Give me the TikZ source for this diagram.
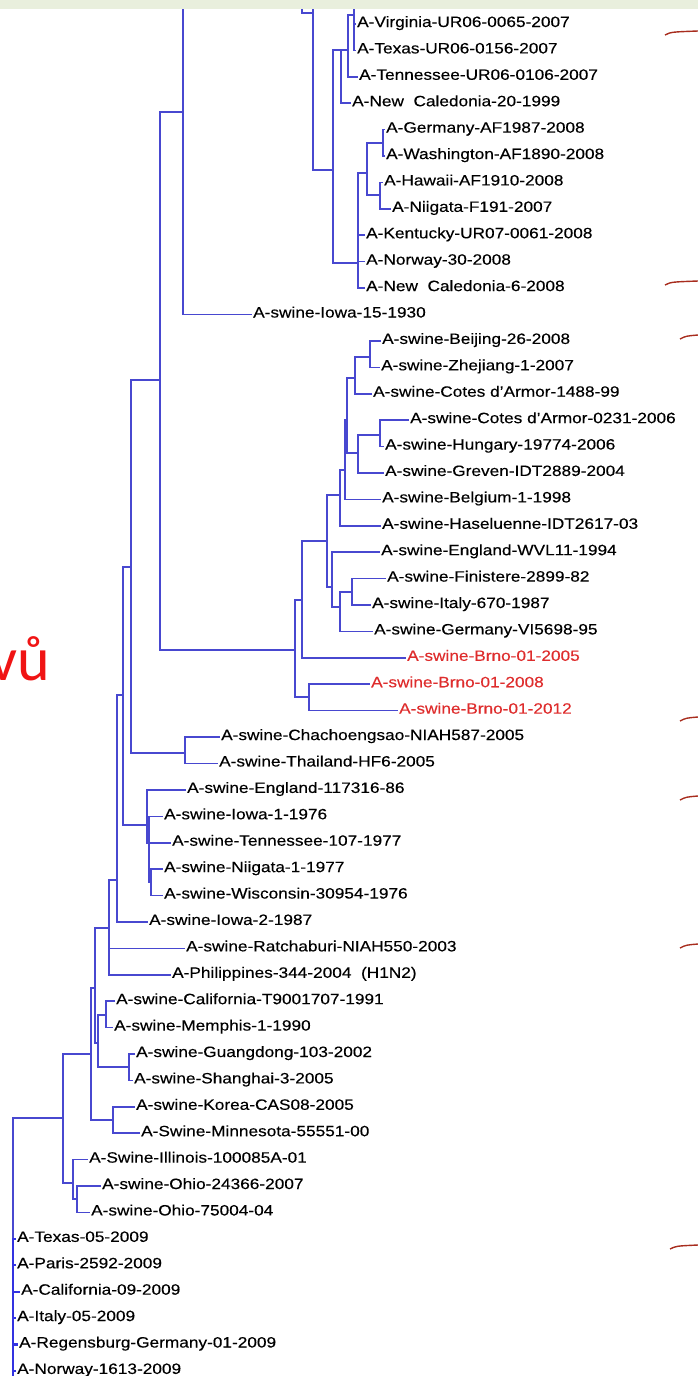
\documentclass[tikz,border=0pt]{standalone}
\usepackage{fontspec}
\setmainfont{Liberation Sans}[FakeStretch=1.15, FakeBold=0.3]
\newfontfamily\slidefont{Carlito}
\usepackage{tikz}
\definecolor{cBranch}{RGB}{72,72,208}
\definecolor{cRoot}{RGB}{50,50,225}
\definecolor{cBrno}{RGB}{222,45,45}
\definecolor{cBand}{RGB}{233,239,221}
\definecolor{cMark}{RGB}{168,45,30}
\definecolor{cSlide}{RGB}{240,20,20}
\tikzset{
	branch/.style={draw=cBranch, line width=1.6pt},
	rootbranch/.style={draw=cRoot, line width=2.2pt},
	leaf/.style={anchor=base west, inner sep=1pt, yshift=-3pt, font=\fontsize{15}{18}\selectfont},
	% leftovers of the slide around the tree
	edgemark/.style={draw=cMark, line width=1.4pt},
	bigword/.style={text=cSlide, font=\slidefont\fontsize{62}{70}\selectfont, inner sep=0pt, anchor=base east},
}

\begin{document}
\begin{tikzpicture}[x=1pt, y=-1pt]
	\useasboundingbox (0,0) rectangle (698,1376);
	% leaves, top to bottom
	\foreach \tx/\lab/\col [count=\i from 0] in {
		356/{A-Virginia-UR06-0065-2007}/black, 356/{A-Texas-UR06-0156-2007}/black,
		358/{A-Tennessee-UR06-0106-2007}/black, 351/{A-New\ \ Caledonia-20-1999}/black,
		385/{A-Germany-AF1987-2008}/black, 385/{A-Washington-AF1890-2008}/black,
		383/{A-Hawaii-AF1910-2008}/black, 391/{A-Niigata-F191-2007}/black,
		365/{A-Kentucky-UR07-0061-2008}/black, 365/{A-Norway-30-2008}/black,
		365/{A-New\ \ Caledonia-6-2008}/black, 252/{A-swine-Iowa-15-1930}/black,
		381/{A-swine-Beijing-26-2008}/black, 380/{A-swine-Zhejiang-1-2007}/black,
		372/{A-swine-Cotes d'Armor-1488-99}/black, 409/{A-swine-Cotes d'Armor-0231-2006}/black,
		384/{A-swine-Hungary-19774-2006}/black, 384/{A-swine-Greven-IDT2889-2004}/black,
		381/{A-swine-Belgium-1-1998}/black, 381/{A-swine-Haseluenne-IDT2617-03}/black,
		380/{A-swine-England-WVL11-1994}/black, 386/{A-swine-Finistere-2899-82}/black,
		371/{A-swine-Italy-670-1987}/black, 373/{A-swine-Germany-VI5698-95}/black,
		406/{A-swine-Brno-01-2005}/cBrno, 370/{A-swine-Brno-01-2008}/cBrno,
		398/{A-swine-Brno-01-2012}/cBrno, 220/{A-swine-Chachoengsao-NIAH587-2005}/black,
		218/{A-swine-Thailand-HF6-2005}/black, 186/{A-swine-England-117316-86}/black,
		163/{A-swine-Iowa-1-1976}/black, 171/{A-swine-Tennessee-107-1977}/black,
		163/{A-swine-Niigata-1-1977}/black, 163/{A-swine-Wisconsin-30954-1976}/black,
		148/{A-swine-Iowa-2-1987}/black, 185/{A-swine-Ratchaburi-NIAH550-2003}/black,
		171/{A-Philippines-344-2004\ \ (H1N2)}/black, 115/{A-swine-California-T9001707-1991}/black,
		113/{A-swine-Memphis-1-1990}/black, 135/{A-swine-Guangdong-103-2002}/black,
		133/{A-swine-Shanghai-3-2005}/black, 135/{A-swine-Korea-CAS08-2005}/black,
		140/{A-Swine-Minnesota-55551-00}/black, 88/{A-Swine-Illinois-100085A-01}/black,
		101/{A-swine-Ohio-24366-2007}/black, 90/{A-swine-Ohio-75004-04}/black,
		16/{A-Texas-05-2009}/black, 16/{A-Paris-2592-2009}/black,
		20/{A-California-09-2009}/black, 16/{A-Italy-05-2009}/black,
		18/{A-Regensburg-Germany-01-2009}/black, 16/{A-Norway-1613-2009}/black}{
		\coordinate (t\i) at (\tx,{24+26.41*\i});
		\node[leaf, text=\col] (l\i) at (t\i) {\lab};
	}
	% inner nodes
	\coordinate (root) at (13,1380);
	\coordinate (swA) at (63,1118);
	\coordinate (ohio) at (73,1183);
	\coordinate (ohioB) at (77,1199);
	\coordinate (swB) at (91,1054);
	\coordinate (swC) at (95,988);
	\coordinate (korea) at (113,1120);
	\coordinate (chn) at (98,1043);
	\coordinate (calmem) at (106,1015);
	\coordinate (gdsh) at (129,1067);
	\coordinate (phil) at (109,928);
	\coordinate (iowaB) at (117,880);
	\coordinate (clsA) at (123,695);
	\coordinate (eng) at (147,825);
	\coordinate (engB) at (149,843);
	\coordinate (engC) at (151,882);
	\coordinate (clsB) at (131,567);
	\coordinate (thai) at (185,753);
	\coordinate (upper) at (160,380);
	\coordinate (classic) at (183,112);
	\coordinate (huA) at (302,-20);
	\coordinate (huB) at (313,13);
	\coordinate (cutA) at (330,-20);
	\coordinate (huC) at (333,170);
	\coordinate (huD) at (341,50);
	\coordinate (huE) at (348,50);
	\coordinate (vt) at (354,15);
	\coordinate (cutB) at (357,-20);
	\coordinate (huF) at (358,263);
	\coordinate (huG) at (367,173);
	\coordinate (gw) at (383,143);
	\coordinate (hn) at (380,195);
	\coordinate (eur) at (295,650);
	\coordinate (eurA) at (302,600);
	\coordinate (brno) at (309,697);
	\coordinate (eurB) at (327,541);
	\coordinate (eurC) at (332,587);
	\coordinate (eurD) at (340,607);
	\coordinate (fin) at (352,592);
	\coordinate (eurE) at (340,495);
	\coordinate (eurF) at (345,470);
	\coordinate (eurG) at (347,420);
	\coordinate (eurH) at (355,378);
	\coordinate (bjzj) at (370,357);
	\coordinate (eurI) at (358,453);
	\coordinate (cdh) at (380,435);
	% branches
	\draw[branch] (root) |- (swA);
	\foreach \c in {t46, t47, t48, t49, t50, t51}
		\draw[rootbranch] (root) |- (\c);
	\foreach \p/\c in {swA/swB, swA/ohio, ohio/t43, ohio/ohioB, ohioB/t44, ohioB/t45,
		swB/swC, swB/korea, korea/t41, korea/t42, swC/phil, swC/chn,
		chn/calmem, chn/gdsh, calmem/t37, calmem/t38, gdsh/t39, gdsh/t40,
		phil/iowaB, phil/t35, phil/t36, iowaB/clsA, iowaB/t34,
		clsA/clsB, clsA/eng, eng/t29, eng/engB, engB/t30, engB/t31, engB/engC, engC/t32, engC/t33,
		clsB/upper, clsB/thai, thai/t27, thai/t28, upper/classic, upper/eur,
		classic/huA, classic/t11, huA/huB, huB/cutA, huB/huC, huC/huD, huC/huF,
		huD/huE, huD/t3, huE/vt, huE/t2, vt/cutB, vt/t0, vt/t1,
		huF/huG, huF/t8, huF/t9, huF/t10, huG/gw, huG/hn, gw/t4, gw/t5, hn/t6, hn/t7,
		eur/eurA, eur/brno, brno/t25, brno/t26, eurA/eurB, eurA/t24,
		eurB/eurE, eurB/eurC, eurC/t20, eurC/eurD, eurD/fin, eurD/t23, fin/t21, fin/t22,
		eurE/eurF, eurE/t19, eurF/eurG, eurF/t18, eurG/eurH, eurG/eurI,
		eurH/bjzj, eurH/t14, bjzj/t12, bjzj/t13, eurI/cdh, eurI/t17, cdh/t15, cdh/t16}
		\draw[branch] (\p) |- (\c);
	% slide band and cut-off marks
	\fill[cBand] (0,0) rectangle (698,9);
	\foreach \mx/\my in {665/32, 665/282, 680/336, 680/718, 680/797, 680/945, 670/1246}
		\draw[edgemark] (\mx,\my+3) .. controls (\mx+6,\my) .. (698,\my-1);
	\node[bigword] (vu) at (50,680) {vů};
\end{tikzpicture}
\end{document}
